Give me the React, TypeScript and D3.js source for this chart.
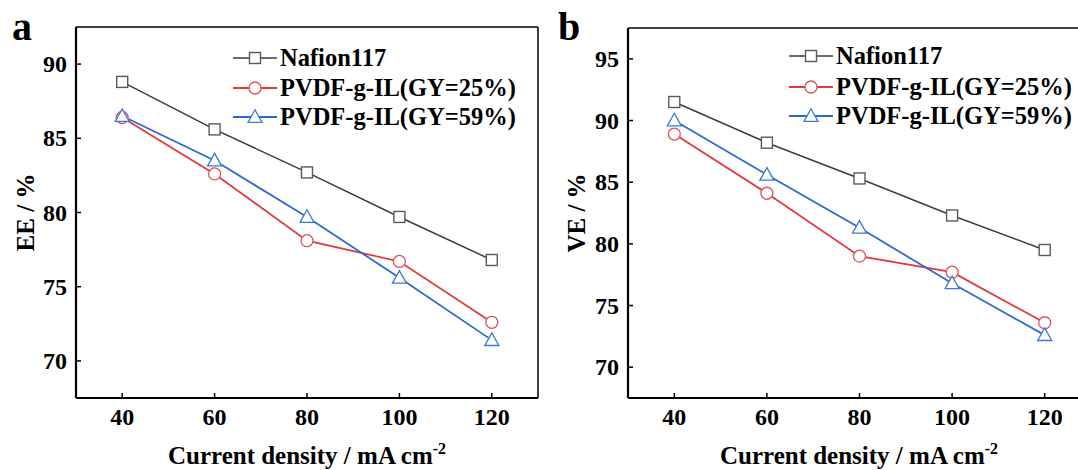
import React from "react";
import * as d3 from "d3";

const currentDensity = [40, 60, 80, 100, 120];
const seriesNames = ["Nafion117", "PVDF-g-IL(GY=25%)", "PVDF-g-IL(GY=59%)"];
const eeNafion = [88.8, 85.6, 82.7, 79.7, 76.8];
const eeGY25 = [86.4, 82.6, 78.1, 76.7, 72.6];
const eeGY59 = [86.5, 83.5, 79.7, 75.6, 71.4];
const veNafion = [91.5, 88.2, 85.3, 82.3, 79.5];
const veGY25 = [88.9, 84.1, 79.0, 77.7, 73.6];
const veGY59 = [90.0, 85.6, 81.3, 76.8, 72.6];
const xTicks = [40, 60, 80, 100, 120];
const eeTicks = [70, 75, 80, 85, 90];
const veTicks = [70, 75, 80, 85, 90, 95];

const lineColors = ["#3c3c3c", "#e23a3a", "#2a6bd0"];
const markerColors = ["#5a5a5a", "#d9545a", "#3a7bd2"];
const FONT = "'Liberation Serif', 'Times New Roman', serif";

function Marker({ kind, x, y, color }: { kind: number; x: number; y: number; color: string }) {
  if (kind === 0) {
    return <rect x={x - 5.5} y={y - 5.5} width={11} height={11} fill="#fff" stroke={color} strokeWidth={1.4} />;
  }
  if (kind === 1) {
    return <circle cx={x} cy={y} r={6} fill="#fff" stroke={color} strokeWidth={1.3} />;
  }
  const h = 12;
  const w = 14;
  return (
    <path
      d={`M${x},${y - h * 0.6} L${x + w / 2},${y + h * 0.45} L${x - w / 2},${y + h * 0.45} Z`}
      fill="#fff"
      stroke={color}
      strokeWidth={1.3}
    />
  );
}

function Panel(props: {
  label: string;
  labelX: number;
  left: number;
  right: number;
  top: number;
  bottom: number;
  yDomain: [number, number];
  yTicks: number[];
  yTitle: string;
  yTitleX: number;
  titleX: number;
  series: number[][];
  legendX: number;
  legendY: number[];
}) {
  const { left, right, top, bottom } = props;
  const x = d3.scaleLinear().domain([30, 130]).range([left, right]);
  const y = d3.scaleLinear().domain(props.yDomain).range([bottom, top]);
  const line = d3
    .line<number>()
    .x((_, i) => x(currentDensity[i]))
    .y((d) => y(d));
  return (
    <g>
      <text x={props.labelX} y={40} fontFamily={FONT} fontWeight="bold" fontSize={40}>
        {props.label}
      </text>
      <line x1={left} x2={right} y1={top} y2={top} stroke="#000" strokeWidth={1.5} />
      <line x1={right} x2={right} y1={top} y2={bottom} stroke="#000" strokeWidth={1.5} />
      <line x1={left} x2={right} y1={bottom} y2={bottom} stroke="#000" strokeWidth={2.2} />
      <line x1={left} x2={left} y1={top} y2={bottom} stroke="#000" strokeWidth={2.2} />
      {xTicks.map((t) => (
        <g key={"x" + t}>
          <line x1={x(t)} x2={x(t)} y1={bottom} y2={bottom - 5} stroke="#000" strokeWidth={1.5} />
          <text x={x(t)} y={bottom + 27} textAnchor="middle" fontFamily={FONT} fontWeight="bold" fontSize={24}>
            {t}
          </text>
        </g>
      ))}
      {props.yTicks.map((t) => (
        <g key={"y" + t}>
          <line x1={left} x2={left + 5} y1={y(t)} y2={y(t)} stroke="#000" strokeWidth={1.5} />
          <text x={left - 9} y={y(t) + 8} textAnchor="end" fontFamily={FONT} fontWeight="bold" fontSize={24}>
            {t}
          </text>
        </g>
      ))}
      <text
        transform={`translate(${props.yTitleX},${(top + bottom) / 2}) rotate(-90)`}
        textAnchor="middle"
        fontFamily={FONT}
        fontWeight="bold"
        fontSize={25}
      >
        {props.yTitle}
      </text>
      <text x={props.titleX} y={464} textAnchor="middle" fontFamily={FONT} fontWeight="bold" fontSize={25}>
        Current density / mA cm
        <tspan dy={-10} fontSize={16}>-2</tspan>
      </text>
      {props.series.map((s, k) => (
        <path key={"l" + k} d={line(s) || ""} fill="none" stroke={lineColors[k]} strokeWidth={k === 0 ? 1.5 : 1.8} />
      ))}
      {props.series.map((s, k) =>
        s.map((v, i) => <Marker key={"m" + k + "-" + i} kind={k} x={x(currentDensity[i])} y={y(v)} color={markerColors[k]} />)
      )}
      {seriesNames.map((name, k) => (
        <g key={"lg" + k}>
          <line
            x1={props.legendX}
            x2={props.legendX + 44}
            y1={props.legendY[k]}
            y2={props.legendY[k]}
            stroke={lineColors[k]}
            strokeWidth={k === 0 ? 1.5 : 1.8}
          />
          <Marker kind={k} x={props.legendX + 22} y={props.legendY[k]} color={markerColors[k]} />
          <text x={props.legendX + 47} y={props.legendY[k] + 8} fontFamily={FONT} fontWeight="bold" fontSize={24.5}>
            {name}
          </text>
        </g>
      ))}
    </g>
  );
}

export default function App() {
  return (
    <svg width={1078} height={470} style={{ position: "absolute", left: 0, top: 0, background: "#fff" }}>
      <rect x={0} y={0} width={1078} height={470} fill="#fff" />
      <Panel
        label="a"
        labelX={12}
        left={76}
        right={538}
        top={27}
        bottom={398}
        yDomain={[67.5, 92.5]}
        yTicks={eeTicks}
        yTitle="EE / %"
        yTitleX={34}
        titleX={307}
        series={[eeNafion, eeGY25, eeGY59]}
        legendX={233}
        legendY={[58, 88, 117]}
      />
      <Panel
        label="b"
        labelX={558}
        left={628}
        right={1091}
        top={28}
        bottom={398}
        yDomain={[67.5, 97.5]}
        yTicks={veTicks}
        yTitle="VE / %"
        yTitleX={585}
        titleX={859}
        series={[veNafion, veGY25, veGY59]}
        legendX={789}
        legendY={[56, 87, 116]}
      />
    </svg>
  );
}
